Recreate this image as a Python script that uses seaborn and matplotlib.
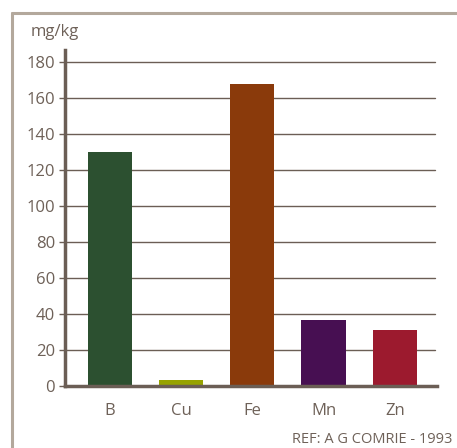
import numpy as np
import pandas as pd
import matplotlib
matplotlib.use("Agg")
import matplotlib.pyplot as plt
import seaborn as sns
from matplotlib.lines import Line2D

elements = ["B", "Cu", "Fe", "Mn", "Zn"]
values = [130, 3.5, 168, 36.5, 31]
colors = ["#2c5030", "#97a300", "#8a3a0b", "#470f52", "#9c1a2e"]
yticks = [0, 20, 40, 60, 80, 100, 120, 140, 160, 180]

TEXT = "#6e6158"
AXIS = "#6b5e55"
BORDER = "#b3a89c"

sns.set_theme(style="white")
plt.rcParams["font.family"] = ["Open Sans", "DejaVu Sans"]

df = pd.DataFrame({"element": elements, "value": values})

fig = plt.figure(figsize=(4.57, 4.48), dpi=100)
ax = fig.add_axes([0.142, 0.138, 0.814, 0.750])

sns.barplot(data=df, x="element", y="value", hue="element", palette=colors,
            width=0.62, legend=False, saturation=1, linewidth=0, ax=ax, zorder=3)

ax.set_ylim(0, 186.5)
ax.set_xlim(-0.63, 4.59)
ax.set_yticks(yticks)
ax.set_xlabel("")
ax.set_ylabel("")

for t in yticks[1:]:
    ax.axhline(t, color=AXIS, lw=1.0, zorder=1, xmax=0.995)

for s in ["top", "right"]:
    ax.spines[s].set_visible(False)
for s in ["left", "bottom"]:
    ax.spines[s].set_color(AXIS)
    ax.spines[s].set_linewidth(2.5)
    ax.spines[s].set_zorder(4)

ax.tick_params(axis="y", which="both", left=True, length=4, width=1,
               color=AXIS, labelcolor=TEXT, labelsize=12, pad=3)
ax.tick_params(axis="x", bottom=False, labelcolor=TEXT, labelsize=12, pad=6)

fig.text(0.068, 0.929, "mg/kg", color=TEXT, fontsize=12, ha="left", va="center")
fig.text(0.989, 0.020, "REF: A G COMRIE - 1993", color=TEXT, fontsize=10.5,
         ha="right", va="center")

# frame lines on the left and top of the figure
fig.add_artist(Line2D([0.027, 0.027], [0.0, 0.971], color=BORDER, lw=2.2,
                      transform=fig.transFigure))
fig.add_artist(Line2D([0.027, 1.0], [0.971, 0.971], color=BORDER, lw=2.2,
                      transform=fig.transFigure))

fig.savefig("out.png", dpi=100, facecolor="white")
